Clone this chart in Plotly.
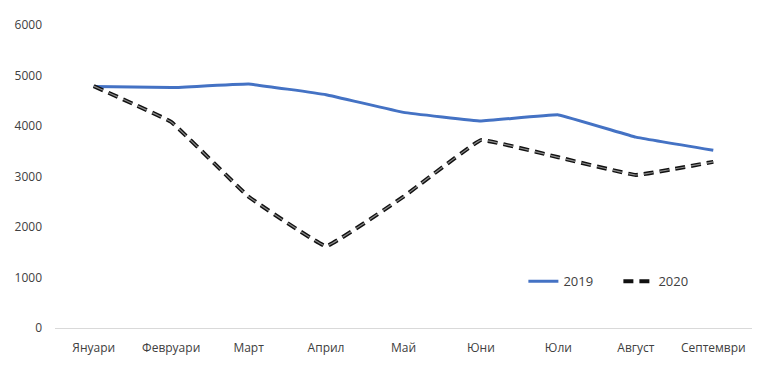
import plotly.graph_objects as go

months = ["Януари", "Февруари", "Март", "Април", "Май", "Юни", "Юли", "Август", "Септември"]
y2019 = [4780, 4760, 4830, 4620, 4270, 4100, 4220, 3780, 3520]
y2020 = [4790, 4080, 2600, 1620, 2600, 3720, 3380, 3030, 3290]
yticks = [0, 1000, 2000, 3000, 4000, 5000, 6000]

fig = go.Figure()
fig.add_trace(go.Scatter(
    x=months, y=y2019, name="2019", mode="lines",
    line=dict(color="#4472C4", width=3, shape="spline", smoothing=0.2),
))
fig.add_trace(go.Scatter(
    x=months, y=y2020, name="2020", mode="lines",
    line=dict(color="#111111", width=4, dash="10px,6px", shape="spline", smoothing=0.2),
))
fig.add_trace(go.Scatter(
    x=months, y=y2020, name="2020", mode="lines", showlegend=False, hoverinfo="skip",
    line=dict(color="#8c8c8c", width=1.2, dash="10px,6px", shape="spline", smoothing=0.2),
))

font = dict(family="Open Sans, Noto Sans, sans-serif", size=12, color="#404040")
fig.update_layout(
    width=768, height=368,
    margin=dict(l=55, r=16, t=25, b=38),
    paper_bgcolor="white", plot_bgcolor="white",
    font=font,
    showlegend=True,
    legend=dict(orientation="h", x=0.672, y=0.154, xanchor="left", yanchor="middle",
                font=dict(family="Open Sans, Noto Sans, sans-serif", size=13, color="#404040"),
                entrywidth=50, entrywidthmode="pixels",
                bgcolor="rgba(0,0,0,0)"),
)
fig.update_xaxes(
    range=[-0.5, len(months) - 0.5],
    showgrid=False, showline=True, linecolor="#d9d9d9", linewidth=1,
    ticks="", ticklabelstandoff=9, zeroline=False,
)
fig.update_yaxes(
    range=[0, 6000], tickvals=yticks, ticktext=[str(v) for v in yticks],
    showgrid=False, showline=False, zeroline=False, ticks="", ticklabelstandoff=12,
)
fig.write_html("out.html")
